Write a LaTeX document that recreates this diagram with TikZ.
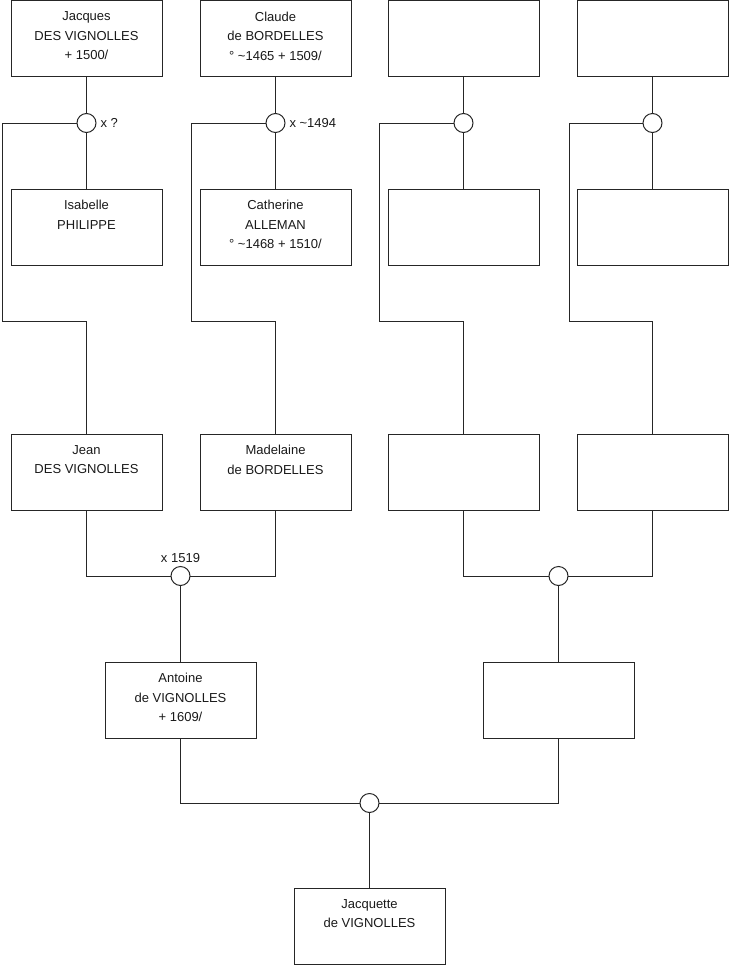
\documentclass[tikz,border=0pt]{standalone}
\usepackage{fontspec}
\setmainfont{Liberation Sans}
\begin{document}
\begin{tikzpicture}[x=1pt,y=-1pt,
  line width=1pt, draw=black!85,
  person/.style={draw=black!85, line width=1pt, rectangle, anchor=north west, minimum width=151pt, minimum height=76pt, inner sep=0pt, outer sep=0pt},
  ptext/.style={anchor=north, align=center, inner sep=0pt, font=\fontsize{13}{19.5}\selectfont, text=black!90, yshift=-11pt},
  union/.style={draw=black!85, line width=1pt, circle, fill=white, minimum size=19pt, inner sep=0pt, outer sep=0pt},
  ulabel/.style={font=\fontsize{13}{16}\selectfont, text=black!90, inner sep=0pt},
  link/.style={draw=black!85, line width=1pt}]
\useasboundingbox (0,0) rectangle (740,975);
% row 1
\node[person] (J) at (11,0.5) {};
\node[person] (C) at (200,0.5) {};
\node[person] (U1) at (388,0.5) {};
\node[person] (U2) at (577,0.5) {};
% row 2
\node[person] (I) at (11,189) {};
\node[person] (Ca) at (200,189) {};
\node[person] (U3) at (388,189) {};
\node[person] (U4) at (577,189) {};
% row 3
\node[person] (Je) at (11,434) {};
\node[person] (M) at (200,434) {};
\node[person] (U5) at (388,434) {};
\node[person] (U6) at (577,434) {};
% row 4
\node[person] (A) at (105,662) {};
\node[person] (U7) at (483,662) {};
% row 5
\node[person] (Jq) at (294,888) {};
% texts
\node[ptext] (tJ) at (J.north) {Jacques\\DES VIGNOLLES\\+ 1500/};
\node[ptext] (tC) at (C.north) {Claude\\de BORDELLES\\° \textasciitilde1465 + 1509/};
\node[ptext] (tI) at (I.north) {Isabelle\\PHILIPPE};
\node[ptext] (tCa) at (Ca.north) {Catherine\\ALLEMAN\\° \textasciitilde1468 + 1510/};
\node[ptext] (tJe) at (Je.north) {Jean\\DES VIGNOLLES};
\node[ptext] (tM) at (M.north) {Madelaine\\de BORDELLES};
\node[ptext] (tA) at (A.north) {Antoine\\de VIGNOLLES\\+ 1609/};
\node[ptext] (tJq) at (Jq.north) {Jacquette\\de VIGNOLLES};
% corner coordinates
\coordinate (k1a) at (2,123);   \coordinate (k1b) at (2,321);   \coordinate (k1c) at (86.5,321);
\coordinate (k2a) at (191,123); \coordinate (k2b) at (191,321); \coordinate (k2c) at (275.5,321);
\coordinate (k3a) at (379,123); \coordinate (k3b) at (379,321); \coordinate (k3c) at (463.5,321);
\coordinate (k4a) at (569,123); \coordinate (k4b) at (569,321); \coordinate (k4c) at (652.5,321);
% union circles
\node[union] (c1) at (86.5,123) {};
\node[union] (c2) at (275.5,123) {};
\node[union] (c3) at (463.5,123) {};
\node[union] (c4) at (652.5,123) {};
\node[union] (c5) at (180.5,576) {};
\node[union] (c6) at (558.5,576) {};
\node[union] (c7) at (369.5,803) {};
% vertical links rows 1-2
\draw[link] (J.south) -- (c1.north);
\draw[link] (c1.south) -- (I.north);
\draw[link] (C.south) -- (c2.north);
\draw[link] (c2.south) -- (Ca.north);
\draw[link] (U1.south) -- (c3.north);
\draw[link] (c3.south) -- (U3.north);
\draw[link] (U2.south) -- (c4.north);
\draw[link] (c4.south) -- (U4.north);
% lines to children
\draw[link] (c1.west) -- (k1a) -- (k1b) -- (k1c) -- (Je.north);
\draw[link] (c2.west) -- (k2a) -- (k2b) -- (k2c) -- (M.north);
\draw[link] (c3.west) -- (k3a) -- (k3b) -- (k3c) -- (U5.north);
\draw[link] (c4.west) -- (k4a) -- (k4b) -- (k4c) -- (U6.north);
\draw[link] (Je.south) |- (c5.west);
\draw[link] (M.south) |- (c5.east);
\draw[link] (c5.south) -- (A.north);
\draw[link] (U5.south) |- (c6.west);
\draw[link] (U6.south) |- (c6.east);
\draw[link] (c6.south) -- (U7.north);
\draw[link] (A.south) |- (c7.west);
\draw[link] (U7.south) |- (c7.east);
\draw[link] (c7.south) -- (Jq.north);
% union labels
\node[ulabel, anchor=west, xshift=4pt] (l1) at (c1.east) {x ?};
\node[ulabel, anchor=west, xshift=4pt] (l2) at (c2.east) {x \textasciitilde1494};
\node[ulabel, anchor=base, yshift=4pt] (l5) at (c5.north) {x 1519};
\end{tikzpicture}
\end{document}
